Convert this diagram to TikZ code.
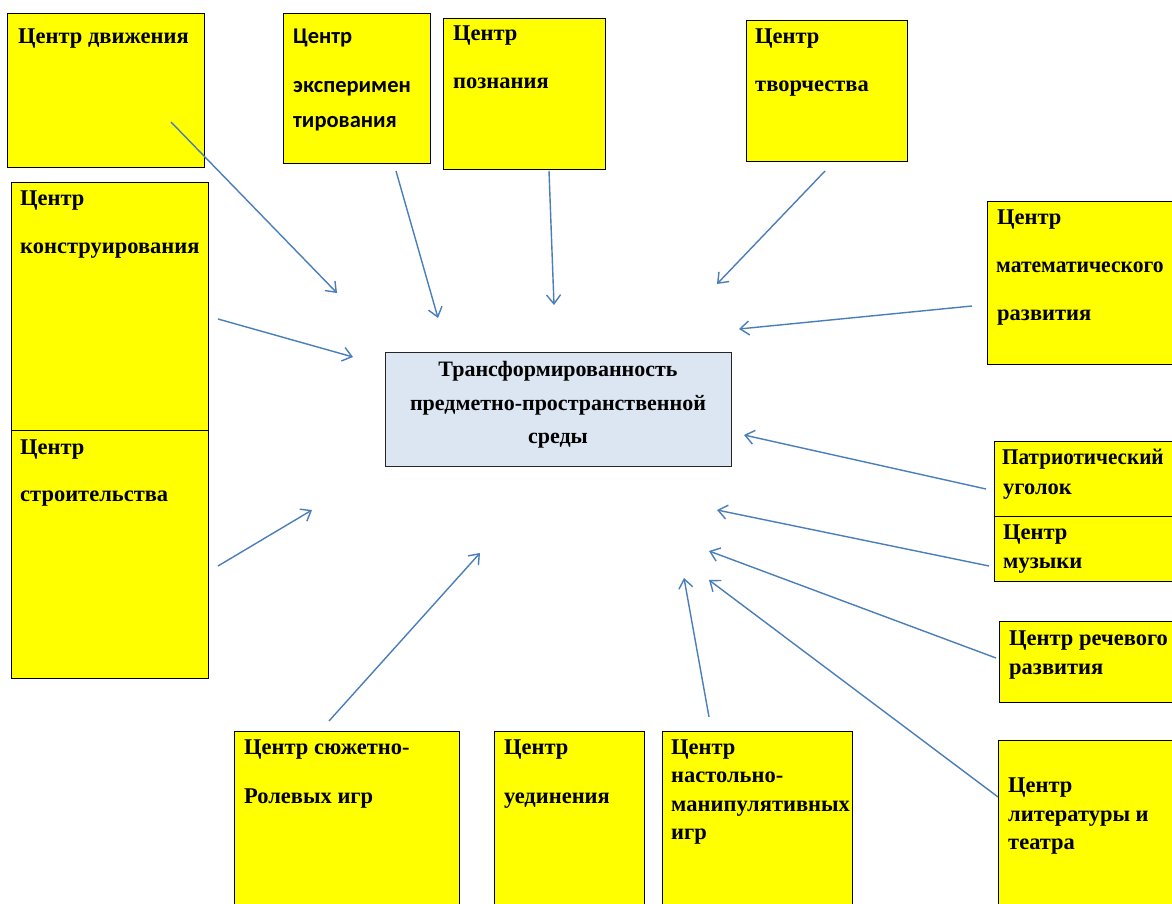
\documentclass[tikz,border=0pt]{standalone}
\usepackage{fontspec}
\setmainfont{Liberation Serif}
\newfontfamily\sansb{Carlito}
\usetikzlibrary{arrows.meta}
\definecolor{boxyellow}{RGB}{255,255,0}
\definecolor{centerfill}{RGB}{220,230,242}
\definecolor{arrowblue}{RGB}{74,126,187}
\tikzset{
  ybox/.style={draw=black, line width=1.3pt, fill=boxyellow, inner sep=0pt, anchor=north west},
  cbox/.style={draw=black!85, line width=1.3pt, fill=centerfill, inner sep=0pt, anchor=north west},
  txt/.style={inner sep=0pt, anchor=base west, font=\fontsize{22.5}{26}\selectfont\bfseries},
  stxt/.style={inner sep=0pt, anchor=base west, font=\fontsize{22.5}{26}\selectfont\sansb\bfseries},
  ctxt/.style={inner sep=0pt, anchor=base, font=\fontsize{22}{26}\selectfont\bfseries},
  link/.style={draw=arrowblue, line width=1.4pt, -{Straight Barb[length=9pt,width=14pt,line width=1.4pt]}}
}
\newcommand\yrect[5]{\node[ybox, minimum width=#4pt-#2pt, minimum height=#5pt-#3pt] (#1) at (#2,#3) {};}
\newcommand\tline[4]{\node[txt] (#1) at (#2,#3) {#4};}
\begin{document}
\begin{tikzpicture}[x=1pt,y=-1pt]
\useasboundingbox (0,0) rectangle (1172,904);
\fill[white] (0,0) rectangle (1172,904);
% boxes
\yrect{bDv}{7}{13}{204}{167}
\yrect{bEx}{283}{13}{430}{163}
\yrect{bPz}{443}{18}{605}{169}
\yrect{bTv}{746}{20}{907}{161}
\yrect{bMa}{987}{201}{1180}{364}
\yrect{bKo}{11}{182}{208}{430}
\yrect{bSt}{11}{430}{208}{678}
\yrect{bPa}{994}{441}{1180}{516}
\yrect{bMu}{994}{516}{1180}{581}
\yrect{bRe}{999}{621}{1180}{702}
\yrect{bLi}{998}{740}{1180}{910}
\yrect{bSu}{234}{731}{459}{910}
\yrect{bUe}{494}{731}{644}{910}
\yrect{bNa}{662}{731}{852}{910}
\node[cbox, minimum width=346pt, minimum height=114pt] (ctr) at (385,352) {};
% texts
\tline{tDv}{18}{44}{Центр движения}
\node[stxt] (tEx1) at (293,44) {Центр};
\node[stxt] (tEx2) at (293,93) {эксперимен};
\node[stxt] (tEx3) at (293,128) {тирования};
\tline{tPz1}{453}{41}{Центр}
\tline{tPz2}{453}{89}{познания}
\tline{tTv1}{755}{44}{Центр}
\tline{tTv2}{755}{92}{творчества}
\tline{tMa1}{997}{225}{Центр}
\node[txt, xscale=0.96] (tMa2) at (996,272) {математического};
\tline{tMa3}{997}{320}{развития}
\tline{tKo1}{20}{206}{Центр}
\tline{tKo2}{20}{253}{конструирования}
\tline{tSt1}{20}{454}{Центр}
\tline{tSt2}{20}{501}{строительства}
\node[ctxt] (tC1) at (558,376) {Трансформированность};
\node[ctxt] (tC2) at (558,410) {предметно-пространственной};
\node[ctxt] (tC3) at (558,443) {среды};
\node[txt, xscale=0.94] (tPa1) at (1002,464) {Патриотический};
\tline{tPa2}{1003}{494}{уголок}
\tline{tMu1}{1003}{539}{Центр}
\tline{tMu2}{1003}{568}{музыки}
\tline{tRe1}{1009}{645}{Центр речевого}
\tline{tRe2}{1009}{674}{развития}
\tline{tLi1}{1008}{792}{Центр}
\tline{tLi2}{1008}{821}{литературы и}
\tline{tLi3}{1008}{849}{театра}
\tline{tSu1}{244}{754}{Центр сюжетно-}
\tline{tSu2}{244}{803}{Ролевых игр}
\tline{tUe1}{504}{754}{Центр}
\tline{tUe2}{504}{803}{уединения}
\tline{tNa1}{671}{754}{Центр}
\tline{tNa2}{671}{782}{настольно-}
\tline{tNa3}{671}{811}{манипулятивных}
\tline{tNa4}{671}{839}{игр}
% arrow endpoints
\coordinate (sA) at (171,122); \coordinate (eA) at (337,293);
\coordinate (sB) at (396,171); \coordinate (eB) at (438,318);
\coordinate (sC) at (549,171); \coordinate (eC) at (554,305);
\coordinate (sD) at (825,171); \coordinate (eD) at (717,284);
\coordinate (sE) at (972,306); \coordinate (eE) at (739,329);
\coordinate (sF) at (218,319); \coordinate (eF) at (353,357);
\coordinate (sG) at (218,566); \coordinate (eG) at (312,510);
\coordinate (sH) at (329,721); \coordinate (eH) at (480,553);
\coordinate (sI) at (709,717); \coordinate (eI) at (684,578);
\coordinate (sJ) at (998,797); \coordinate (eJ) at (709,580);
\coordinate (sK) at (996,658); \coordinate (eK) at (709,551);
\coordinate (sL) at (989,566); \coordinate (eL) at (717,510);
\coordinate (sM) at (986,489); \coordinate (eM) at (744,435);
\foreach \k in {A,B,C,D,E,F,G,H,I,J,K,L,M} {\draw[link] (s\k) -- (e\k);}
\end{tikzpicture}
\end{document}
